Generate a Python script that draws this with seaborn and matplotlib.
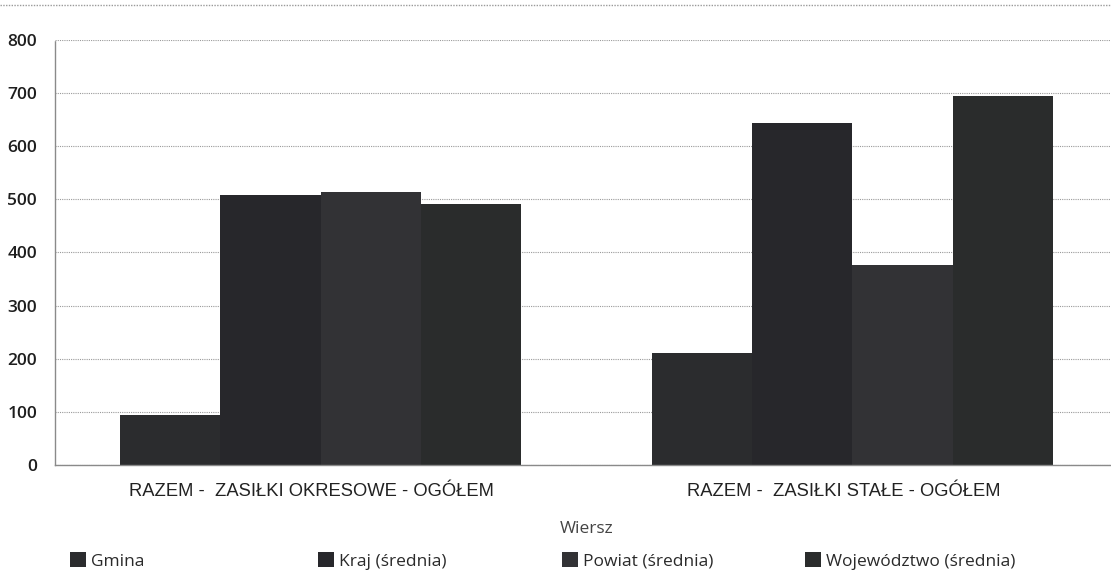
import matplotlib
matplotlib.use("Agg")
import matplotlib.pyplot as plt
import matplotlib.transforms as mtransforms
import seaborn as sns
import pandas as pd
from matplotlib.patches import Patch

# values
categories = ["RAZEM -  ZASIŁKI OKRESOWE - OGÓŁEM", "RAZEM -  ZASIŁKI STAŁE - OGÓŁEM"]
series = ["Gmina", "Kraj (średnia)", "Powiat (średnia)", "Województwo (średnia)"]
gmina = [94, 211]
kraj = [508, 644]
powiat = [514, 377]
wojewodztwo = [491, 695]
colors = ["#2b2c2e", "#27272b", "#323235", "#2a2c2c"]

rows = []
for name, vals in zip(series, [gmina, kraj, powiat, wojewodztwo]):
    for cat, v in zip(categories, vals):
        rows.append({"Wiersz": cat, "Seria": name, "Wartość": v})
df = pd.DataFrame(rows)

sns.set_style("white")
plt.rcParams["font.family"] = ["Open Sans", "DejaVu Sans"]

fig = plt.figure(figsize=(11.11, 5.78), dpi=100)
ax = fig.add_axes([0.0495, 0.1955, 0.957, 0.7353])

sns.barplot(data=df, x="Wiersz", y="Wartość", hue="Seria", hue_order=series,
            palette=colors, saturation=1, width=0.755, gap=0, ax=ax,
            edgecolor="none", legend=False)

ax.set_ylim(0, 800)
ax.set_yticks(range(0, 801, 100))
ax.yaxis.grid(True, color="#9a9a9a", linestyle=(0, (1, 1)), linewidth=0.8)
ax.set_axisbelow(True)
for side in ["top", "right"]:
    ax.spines[side].set_visible(False)
for side in ["left", "bottom"]:
    ax.spines[side].set_color("#8a8a8a")
    ax.spines[side].set_linestyle((0, (1, 1)))
    ax.spines[side].set_linewidth(1.0)
ax.tick_params(axis="y", length=0, pad=13, labelsize=12.5, labelcolor="#1e1e1e")
ax.tick_params(axis="x", length=0, pad=13, labelcolor="#222222")
shift = mtransforms.ScaledTranslation(-9 / 100, 0, fig.dpi_scale_trans)
for lbl in ax.get_xticklabels():
    lbl.set_fontfamily(["Liberation Sans", "DejaVu Sans"])
    lbl.set_fontsize(13.2)
    lbl.set_transform(lbl.get_transform() + shift)
for lbl in ax.get_yticklabels():
    lbl.set_fontweight("semibold")
ax.set_ylabel("")
ax.set_xlabel("Wiersz", fontsize=12.5, color="#444444", labelpad=15)

# top dotted line from the page
fig.add_artist(plt.Line2D([0, 1], [0.991, 0.991], transform=fig.transFigure,
                          color="#9a9a9a", linestyle=(0, (1, 1)), linewidth=1.0))

# legend entries sit at fixed positions along the bottom
legend_x = [70, 318, 562, 805]
for name, c, x in zip(series, colors, legend_x):
    fig.legend([Patch(facecolor=c, edgecolor="none")], [name],
               loc="center left", bbox_to_anchor=(x / 1111, 1 - 561 / 578),
               frameon=False, borderpad=0, borderaxespad=0,
               handlelength=0.9, handleheight=0.9, handletextpad=0.3,
               fontsize=12.5, labelcolor="#2a2a2a")

fig.savefig("out.png", dpi=100)
